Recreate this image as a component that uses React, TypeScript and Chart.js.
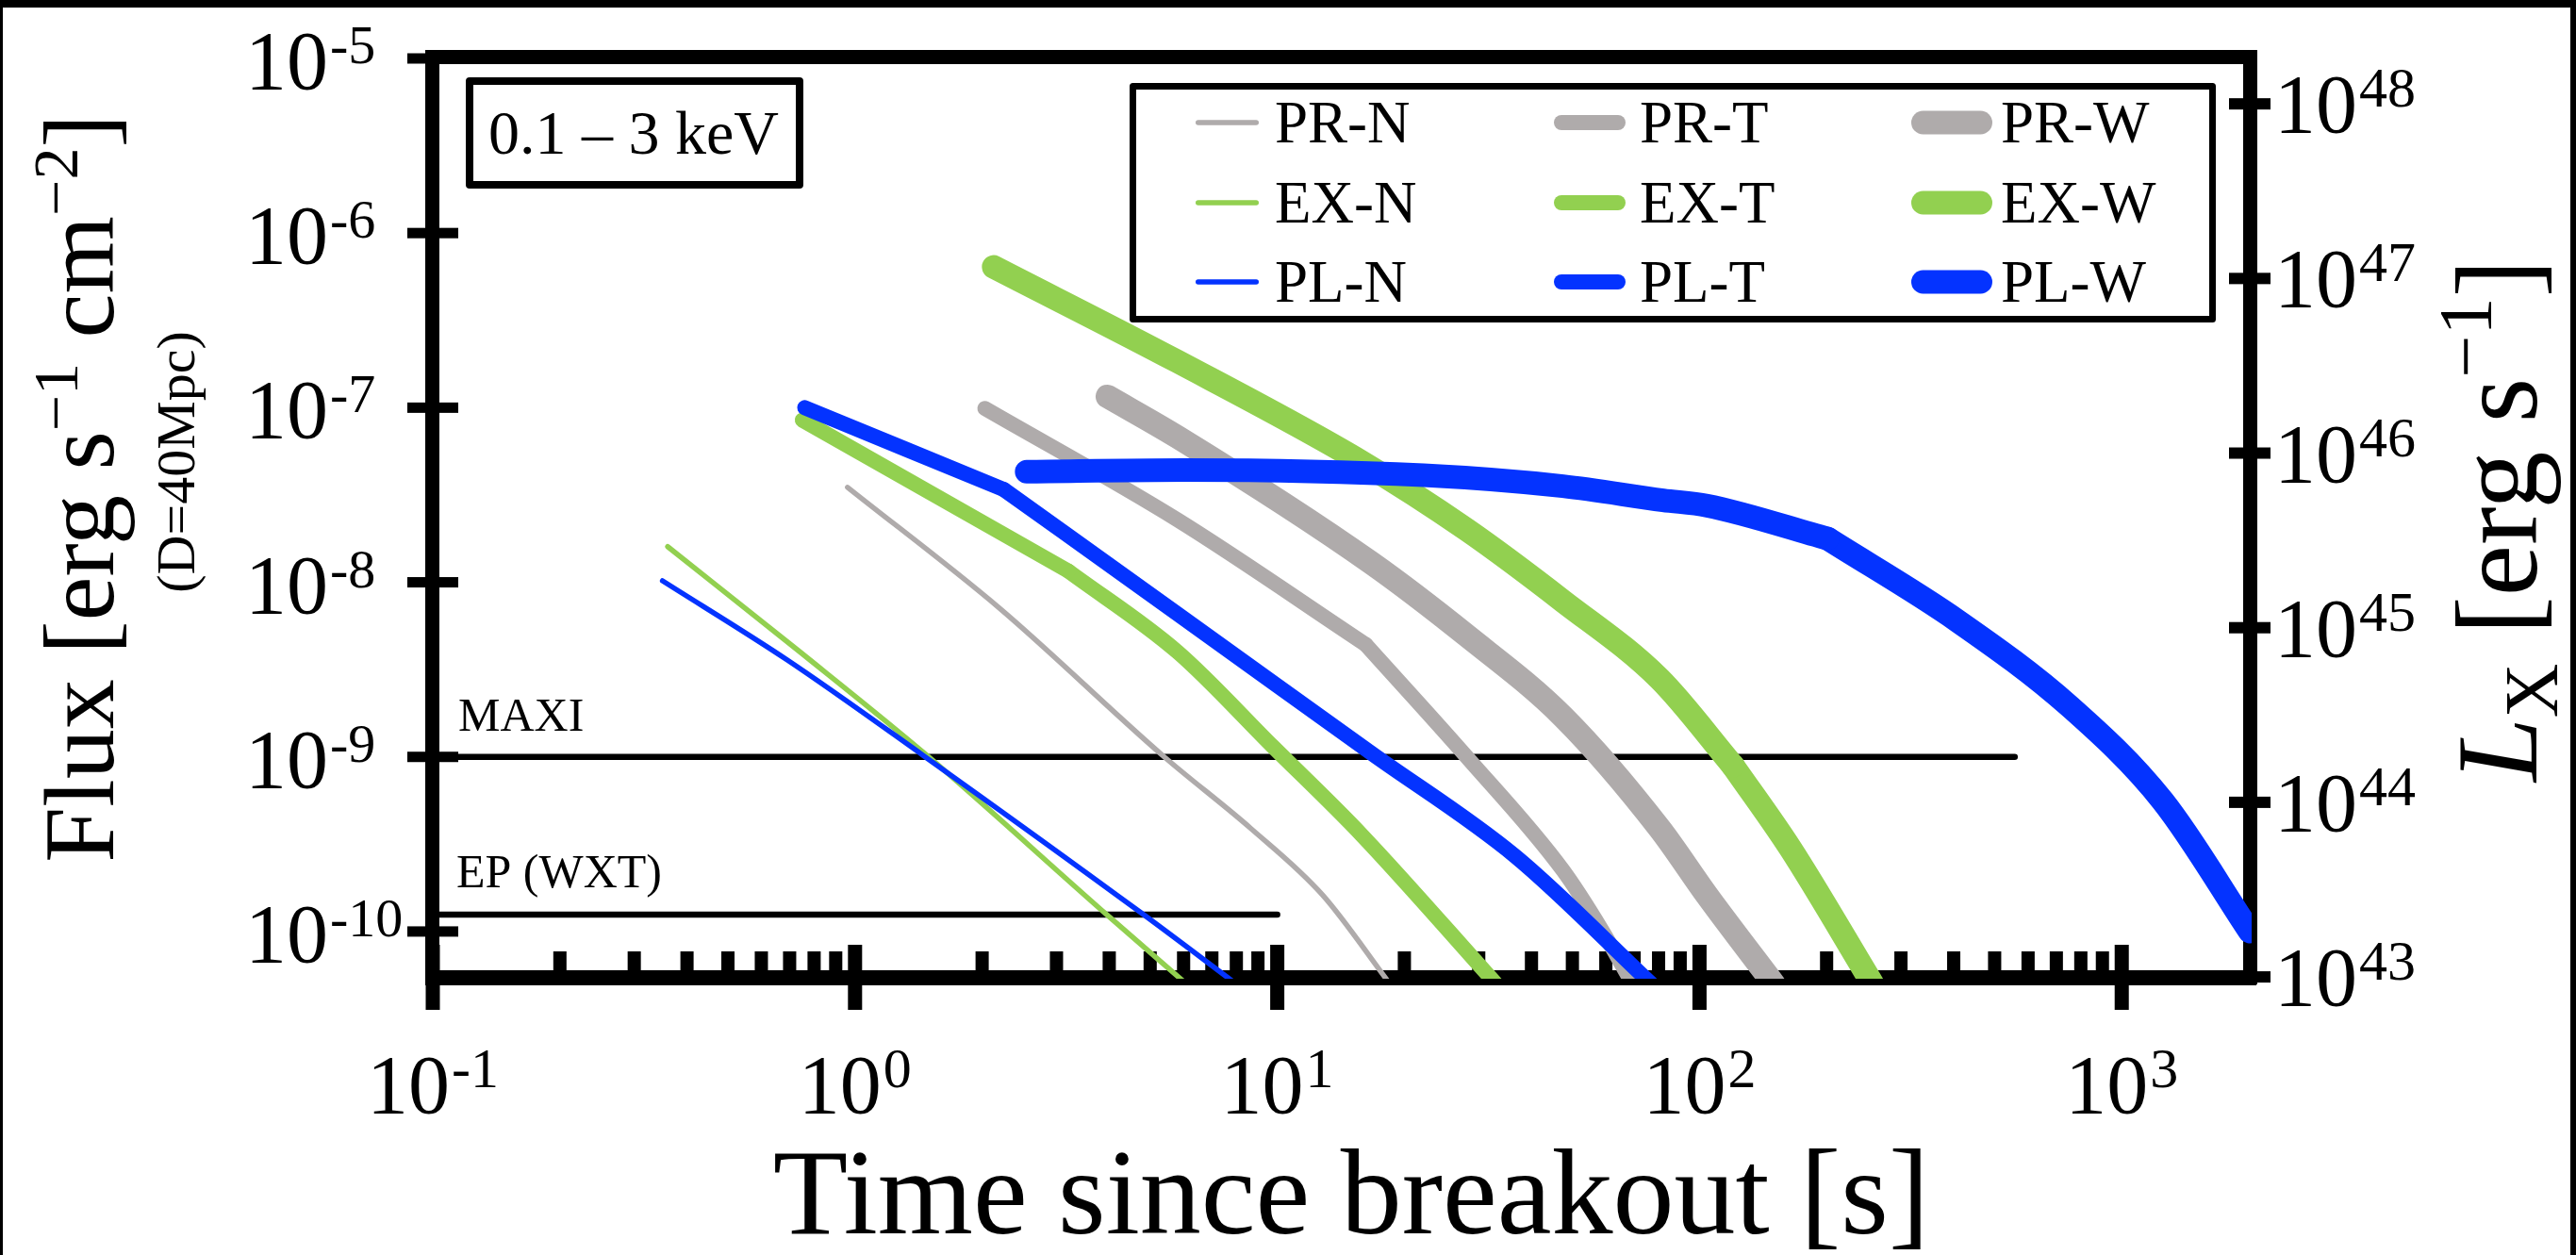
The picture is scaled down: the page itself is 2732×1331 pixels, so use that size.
import React, { useEffect, useRef } from 'react';
import { Chart, registerables } from 'chart.js';

Chart.register(...registerables);

const CANVAS_W = 2732;
const CANVAS_H = 1331;
const FONT = '"Liberation Serif", "Times New Roman", serif';

// ---- axis ranges & ticks ----
const xMin = 0.1;
const xMax = 2010;
const yMin = 5.5e-11;
const yMax = 1e-5;
const LUM_PER_FLUX = 1.82e53; // 4*pi*D^2 for D = 40 Mpc
const xTickExps = [-1, 0, 1, 2, 3];
const yTickExps = [-10, -9, -8, -7, -6, -5];
const lumTickExps = [43, 44, 45, 46, 47, 48];

// ---- series (time [s], flux [erg s^-1 cm^-2]); kinks = indices of sharp breaks ----
const prN_t = [0.96, 2.2, 5.4, 8.65, 12.8, 18.5];
const prN_f = [3.5e-8, 7.1e-9, 1.0e-9, 3.9e-10, 1.62e-10, 5.0e-11];
const prN_kinks: number[] = [];
const prT_t = [2.03, 5.8, 16.2, 28.1, 47.5, 58.7, 69.5];
const prT_f = [9.9e-8, 2.28e-8, 4.4e-9, 1.0e-9, 2.24e-10, 1.02e-10, 5.0e-11];
const prT_kinks = [2];
const prW_t = [3.96, 5.8, 16.7, 28.1, 47.5, 80.4, 104, 150];
const prW_f = [1.16e-7, 6.8e-8, 1.29e-8, 4.95e-9, 1.7e-9, 3.9e-10, 1.62e-10, 5.0e-11];
const prW_kinks: number[] = [];

const exN_t = [0.36, 0.74, 1.48, 3.96, 6.1];
const exN_f = [1.6e-8, 4.0e-9, 1.02e-9, 1.24e-10, 5.0e-11];
const exN_kinks: number[] = [];
const exT_t = [0.75, 3.2, 5.8, 9.75, 15.8, 33.0];
const exT_f = [8.5e-8, 1.16e-8, 4.0e-9, 1.15e-9, 3.6e-10, 5.0e-11];
const exT_kinks = [1];
const exW_t = [2.13, 5.8, 15.8, 28.1, 47.5, 80.4, 120, 164, 257];
const exW_f = [6.4e-7, 1.84e-7, 4.9e-8, 2.0e-8, 7.8e-9, 2.8e-9, 8.9e-10, 3.0e-10, 5.0e-11];
const exW_kinks = [6];

const plN_t = [0.35, 0.69, 1.45, 4.8, 8.0];
const plN_f = [1.02e-8, 3.6e-9, 1.02e-9, 1.26e-10, 5.0e-11];
const plN_kinks: number[] = [];
const plT_t = [0.76, 2.25, 5.8, 16.7, 36.6, 77.0];
const plT_f = [1.0e-7, 3.4e-8, 6.6e-9, 1.05e-9, 2.7e-10, 5.0e-11];
const plT_kinks = [1];
const plW_t = [2.55, 6.0, 22.2, 47.5, 82, 104, 201, 409, 752, 1250, 2010];
const plW_f = [4.3e-8, 4.4e-8, 4.1e-8, 3.55e-8, 2.95e-8, 2.75e-8, 1.78e-8, 6.0e-9, 1.95e-9, 5.6e-10, 1.0e-10];
const plW_kinks = [6];

// ---- detector limits ----
const maxi_t = [0.1, 558];
const maxi_f = [1e-9, 1e-9];
const ep_t = [0.1, 10];
const ep_f = [1.25e-10, 1.25e-10];

const GRAY = '#AFABAB';
const GREEN = '#92D050';
const BLUE = '#0433FF';
const W_N = 5.5;
const W_T = 16;
const W_W = 25;

const pts = (t: number[], f: number[]) => t.map((v, i) => ({ x: v, y: f[i] }));

type Piece = { t: string; size: number; dy?: number; italic?: boolean };

function setFont(ctx: CanvasRenderingContext2D, p: Piece) {
  ctx.font = `${p.italic ? 'italic ' : ''}${p.size}px ${FONT}`;
}
function richWidth(ctx: CanvasRenderingContext2D, pieces: Piece[], gap = 0) {
  let w = 0;
  pieces.forEach((p, i) => {
    setFont(ctx, p);
    w += ctx.measureText(p.t).width + (i > 0 ? gap : 0);
  });
  return w;
}
function drawRich(ctx: CanvasRenderingContext2D, pieces: Piece[], x: number, y: number, gap = 0) {
  let cx = x;
  pieces.forEach((p, i) => {
    if (i > 0) cx += gap;
    setFont(ctx, p);
    ctx.fillText(p.t, cx, y + (p.dy || 0));
    cx += ctx.measureText(p.t).width;
  });
}
function powPieces(exp: string, base: number, sup: number, raise: number): Piece[] {
  return [
    { t: '10', size: base },
    { t: exp, size: sup, dy: -raise },
  ];
}

const decorPlugin = {
  id: 'decor',
  beforeDraw(chart: any) {
    const ctx: CanvasRenderingContext2D = chart.ctx;
    ctx.save();
    ctx.fillStyle = '#ffffff';
    ctx.fillRect(0, 0, CANVAS_W, CANVAS_H);
    ctx.fillStyle = '#000000';
    ctx.fillRect(0, 0, CANVAS_W, 8);
    ctx.fillRect(0, 0, 3, CANVAS_H);
    ctx.fillRect(CANVAS_W - 6, 0, 6, CANVAS_H);
    ctx.restore();
  },
  beforeDatasetsDraw(chart: any) {
    const ctx: CanvasRenderingContext2D = chart.ctx;
    const a = chart.chartArea;
    const sx = chart.scales.x;
    const sy = chart.scales.y;
    const sl = chart.scales.y2;
    ctx.save();
    ctx.fillStyle = '#000';
    ctx.textAlign = 'left';
    ctx.textBaseline = 'alphabetic';

    // frame
    ctx.fillRect(a.left - 8, a.top - 9, a.right - a.left + 15, 15);
    ctx.fillRect(a.left - 8, a.top - 9, 15, a.bottom - a.top + 17);
    ctx.fillRect(a.right - 7, a.top - 9, 15, a.bottom - a.top + 17);
    ctx.fillRect(a.left - 8, a.bottom - 7, a.right - a.left + 15, 16);

    // left ticks + labels
    yTickExps.forEach((e) => {
      const py = sy.getPixelForValue(Math.pow(10, e));
      ctx.fillRect(a.left - 27, py - 5.5, 54, 11);
      drawRich(ctx, powPieces(String(e), 88, 58, 27), 260, py + 32, 2);
    });
    // right ticks + labels
    lumTickExps.forEach((e) => {
      const py = sl.getPixelForValue(Math.pow(10, e));
      ctx.fillRect(a.right - 22, py - 6, 44, 12);
      drawRich(ctx, powPieces(String(e), 88, 60, 27), 2412, py + 30, 2);
    });
    // bottom ticks
    for (let d = xTickExps[0]; d <= xTickExps[xTickExps.length - 1]; d++) {
      for (let m = 1; m <= 9; m++) {
        const v = m * Math.pow(10, d);
        if (v < xMin || v > xMax) continue;
        const px = sx.getPixelForValue(v);
        if (px > a.right - 10) continue;
        if (m === 1) ctx.fillRect(px - 7.5, a.bottom - 34, 15, 69);
        else ctx.fillRect(px - 7, a.bottom - 27, 14, 28);
      }
    }
    xTickExps.forEach((e) => {
      const px = sx.getPixelForValue(Math.pow(10, e));
      const pcs = powPieces(String(e), 88, 60, 27);
      const w = richWidth(ctx, pcs, 2);
      drawRich(ctx, pcs, px - w / 2, a.bottom + 144, 2);
    });

    // x title
    ctx.font = `130px ${FONT}`;
    ctx.textAlign = 'center';
    ctx.fillText('Time since breakout [s]', 1433, 1308);
    ctx.textAlign = 'left';

    // left titles (rotated)
    const leftTitle: Piece[] = [
      { t: 'Flux [erg s', size: 106 },
      { t: '\u22121', size: 68, dy: -38 },
      { t: ' cm', size: 106 },
      { t: '\u22122', size: 68, dy: -38 },
      { t: ']', size: 106 },
    ];
    ctx.save();
    ctx.translate(120, 518);
    ctx.rotate(-Math.PI / 2);
    drawRich(ctx, leftTitle, -richWidth(ctx, leftTitle) / 2, 0);
    ctx.restore();

    const dTitle: Piece[] = [{ t: '(D=40Mpc)', size: 58 }];
    ctx.save();
    ctx.translate(206, 490);
    ctx.rotate(-Math.PI / 2);
    drawRich(ctx, dTitle, -richWidth(ctx, dTitle) / 2, 0);
    ctx.restore();

    const rightTitle: Piece[] = [
      { t: 'L', size: 122, italic: true },
      { t: 'X', size: 80, dy: 22 },
      { t: ' [erg s', size: 122 },
      { t: '\u22121', size: 80, dy: -48 },
      { t: ']', size: 122 },
    ];
    ctx.save();
    ctx.translate(2690, 552);
    ctx.rotate(-Math.PI / 2);
    drawRich(ctx, rightTitle, -richWidth(ctx, rightTitle) / 2, 0);
    ctx.restore();

    // energy band box
    ctx.lineWidth = 8;
    ctx.strokeStyle = '#000';
    ctx.lineJoin = 'round';
    ctx.strokeRect(498, 86, 350, 110);
    ctx.font = `66px ${FONT}`;
    ctx.textAlign = 'center';
    ctx.fillText('0.1 \u2013 3 keV', 672, 163);
    ctx.textAlign = 'left';

    // detector labels
    ctx.font = `50px ${FONT}`;
    ctx.fillText('MAXI', 486, sy.getPixelForValue(maxi_f[0]) - 28);
    ctx.fillText('EP (WXT)', 484, sy.getPixelForValue(ep_f[0]) - 29);

    ctx.restore();
  },
  afterDatasetsDraw(chart: any) {
    const ctx: CanvasRenderingContext2D = chart.ctx;
    ctx.save();
    ctx.strokeStyle = '#000';
    ctx.lineWidth = 7;
    ctx.lineJoin = 'round';
    ctx.strokeRect(1201.5, 91.5, 1145, 247);
    const rowsY = [130, 215, 299];
    const swX = [
      [1268, 1335],
      [1648, 1724],
      [2027, 2113],
    ];
    const txtX = [1352, 1739, 2122];
    const items = chart.data.datasets.filter((d: any) => d.inLegend);
    items.forEach((d: any, i: number) => {
      const r = Math.floor(i / 3);
      const c = i % 3;
      const lw = d.borderWidth;
      const y = rowsY[r];
      ctx.beginPath();
      ctx.lineCap = 'round';
      ctx.lineWidth = lw;
      ctx.strokeStyle = d.borderColor;
      ctx.moveTo(swX[c][0] + lw / 2, y);
      ctx.lineTo(swX[c][1] - lw / 2, y);
      ctx.stroke();
      ctx.fillStyle = '#000';
      ctx.font = `63px ${FONT}`;
      ctx.textAlign = 'left';
      ctx.textBaseline = 'alphabetic';
      ctx.fillText(d.label, txtX[c], y + 21);
    });
    ctx.restore();
  },
};

// A curve is drawn as smooth pieces joined at its sharp breaks.
function curve(label: string, t: number[], f: number[], kinks: number[], color: string, width: number, order: number) {
  const cuts = [0, ...kinks, t.length - 1];
  const out: any[] = [];
  for (let k = 0; k < cuts.length - 1; k++) {
    const s = cuts[k];
    const e = cuts[k + 1];
    out.push({
      label,
      data: pts(t.slice(s, e + 1), f.slice(s, e + 1)),
      borderColor: color,
      backgroundColor: color,
      borderWidth: width,
      borderCapStyle: 'round',
      borderJoinStyle: 'round',
      cubicInterpolationMode: 'monotone',
      pointRadius: 0,
      fill: false,
      clip: 2,
      order,
      inLegend: k === 0,
    });
  }
  return out;
}
function refLine(label: string, t: number[], f: number[]) {
  return {
    label,
    data: pts(t, f),
    borderColor: '#000',
    borderWidth: 6.5,
    borderCapStyle: 'round',
    pointRadius: 0,
    fill: false,
    clip: 2,
    order: 5,
    inLegend: false,
  };
}

export default function App() {
  const ref = useRef<HTMLCanvasElement>(null);
  useEffect(() => {
    const canvas = ref.current;
    if (!canvas) return;
    const chart = new Chart(canvas, {
      type: 'line',
      data: {
        datasets: [
          ...curve('PR-N', prN_t, prN_f, prN_kinks, GRAY, W_N, 3),
          ...curve('PR-T', prT_t, prT_f, prT_kinks, GRAY, W_T, 3),
          ...curve('PR-W', prW_t, prW_f, prW_kinks, GRAY, W_W, 3),
          ...curve('EX-N', exN_t, exN_f, exN_kinks, GREEN, W_N, 2),
          ...curve('EX-T', exT_t, exT_f, exT_kinks, GREEN, W_T, 2),
          ...curve('EX-W', exW_t, exW_f, exW_kinks, GREEN, W_W, 2),
          ...curve('PL-N', plN_t, plN_f, plN_kinks, BLUE, W_N, 1),
          ...curve('PL-T', plT_t, plT_f, plT_kinks, BLUE, W_T, 1),
          ...curve('PL-W', plW_t, plW_f, plW_kinks, BLUE, W_W, 1),
          refLine('MAXI', maxi_t, maxi_f),
          refLine('EP (WXT)', ep_t, ep_f),
        ] as any,
      },
      options: {
        responsive: false,
        animation: false,
        devicePixelRatio: 1,
        parsing: false as any,
        layout: { padding: { left: 459, right: CANVAS_W - 2386, top: 62, bottom: CANVAS_H - 1036 } },
        plugins: { legend: { display: false }, tooltip: { enabled: false } },
        scales: {
          x: { type: 'logarithmic', min: xMin, max: xMax, display: false },
          y: { type: 'logarithmic', min: yMin, max: yMax, display: false },
          y2: {
            type: 'logarithmic',
            position: 'right',
            min: yMin * LUM_PER_FLUX,
            max: yMax * LUM_PER_FLUX,
            display: false,
          },
        },
      } as any,
      plugins: [decorPlugin as any],
    });
    let alive = true;
    if ((document as any).fonts && (document as any).fonts.load) {
      Promise.all([
        (document as any).fonts.load(`88px ${FONT}`),
        (document as any).fonts.load(`italic 88px ${FONT}`),
      ]).then(() => {
        if (alive) chart.update();
      }).catch(() => {});
    }
    return () => {
      alive = false;
      chart.destroy();
    };
  }, []);
  return (
    <div style={{ position: 'fixed', left: 0, top: 0, width: CANVAS_W, height: CANVAS_H, background: '#fff' }}>
      <canvas
        ref={ref}
        width={CANVAS_W}
        height={CANVAS_H}
        style={{ display: 'block', width: CANVAS_W, height: CANVAS_H }}
      />
    </div>
  );
}
